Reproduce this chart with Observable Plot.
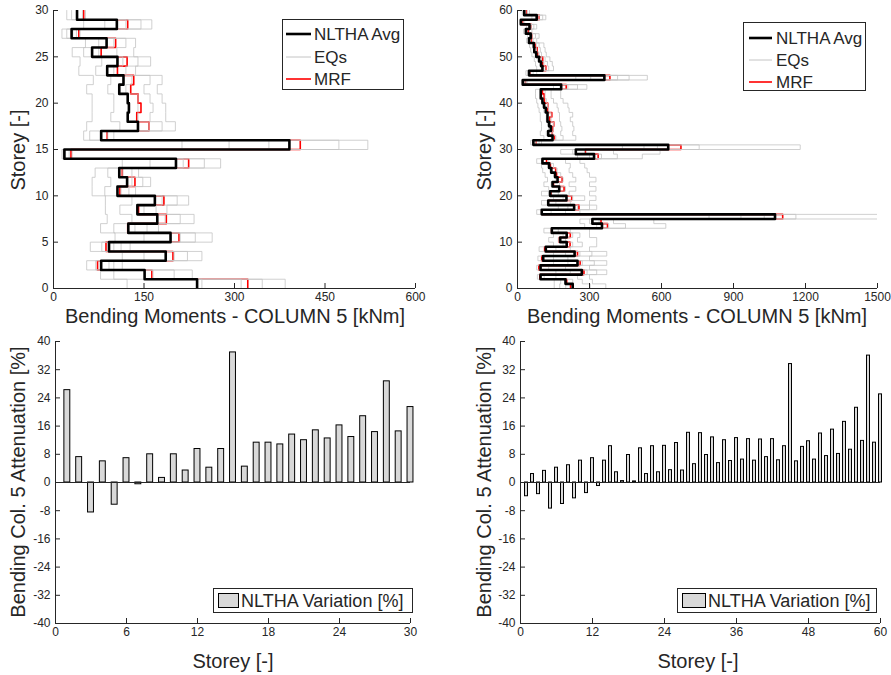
<!DOCTYPE html>
<html><head><meta charset="utf-8">
<script src="https://cdn.jsdelivr.net/npm/d3@7"></script>
<script src="https://cdn.jsdelivr.net/npm/@observablehq/plot@0.6"></script>
<style>
body{margin:0;background:#fff;}
#fig{position:relative;width:891px;height:675px;font-family:"Liberation Sans",Arial,sans-serif;color:#262626;overflow:hidden;background:#fff}
.lab{position:absolute;font-size:20px;white-space:nowrap;line-height:1}
.ylab{transform:translate(-50%,-50%) rotate(-90deg);}
.xlab{transform:translate(-50%,-50%);}
.leg{position:absolute;border:1px solid #262626;background:#fff;font-size:17px;box-sizing:border-box}
.leg .row{position:absolute;left:0;white-space:nowrap;line-height:1}
</style></head><body><div id="fig"></div>
<script>
// ---------- DATA ----------
// Top-left (30 storeys) bending moments [kNm], one value per storey band (storey i-1 -> i)
const avgL = [238,151,79,186,92,194,124,172,139,168,106,122,109,203,18,391,79,140,123,125,123,109,116,89,106,64,88,30,105,39];
const mrfL = [322,163,73,198,87,208,123,187,141,183,110,135,114,224,29,409,89,158,138,145,140,128,133,106,122,79,103,42,123,50];
const eqL1 = [122,78,55,114,61,102,78,89,86,86,64,64,69,114,14,213,50,55,64,64,64,55,66,42,44,31,53,14,50,22];
const eqL2 = [246,100,70,150,80,150,100,130,110,130,85,95,90,160,16,291,60,110,95,100,100,90,95,70,80,50,75,22,85,30];
const eqL3 = [311,165,92,200,100,210,135,185,150,180,112,130,115,215,20,357,80,158,140,140,140,120,130,100,115,75,100,32,120,40];
const eqL4 = [346,200,100,222,112,235,155,210,170,205,125,148,130,250,26,473,90,180,160,165,160,150,160,120,140,105,120,38,145,48];
const eqL5 = [384,230,114,246,127,263,174,233,188,224,136,161,141,277,31,521,100,202,186,186,180,172,180,136,161,133,136,44,163,53];

// Top-right (60 storeys)
const avgR = [230,200,96,268,96,250,107,238,118,205, 178,205,143,352,312,1073,101,236,128,204, 136,174,146,167,157,141,132,104,319,243, 628,66,146,128,139,132,125,125,118,111, 104,97,97,182,22,362,48,104,98,90, 78,70,68,48,55,35,50,14,80,28];
const mrfR = [221,205,93,277,89,261,101,250,113,219, 173,220,142,375,348,1105,101,256,128,226, 139,194,150,186,163,159,137,121,336,283, 681,76,154,145,148,151,134,143,126,126, 112,111,104,203,33,385,53,118,105,105, 84,82,74,58,61,44,57,22,90,37];
const eqR1 = [153,153,83,160,80,150,85,150,90,150, 130,150,110,280,260,798,80,170,100,150, 100,130,110,125,115,105,100,80,250,180, 437,55,110,95,100,100,95,95,90,85, 80,75,75,150,18,243,35,80,75,70, 60,55,50,38,42,25,38,10,60,20];
const eqR2 = [176,180,111,220,100,210,110,200,120,190, 170,190,140,330,300,931,100,210,125,190, 130,165,140,160,150,135,125,100,300,230, 527,65,140,120,130,125,120,120,110,105, 100,95,95,180,22,305,45,100,95,88, 75,68,65,46,52,32,48,14,78,27];
const eqR3 = [201,230,160,290,130,270,150,260,160,230, 200,230,170,380,340,1028,140,250,160,230, 170,200,175,190,180,165,150,130,350,280, 583,75,160,145,150,150,140,140,130,125, 120,115,115,210,28,417,55,115,110,100, 90,80,78,55,62,40,58,18,90,33];
const eqR4 = [303,270,250,330,200,320,210,310,220,270, 250,260,220,450,400,1160,200,300,220,280, 215,243,215,243,230,215,220,200,416,400, 757,90,190,180,185,180,175,175,170,165, 150,140,140,250,34,465,65,130,125,115, 100,95,90,65,75,50,68,24,105,40];
const eqR5 = [368,312,300,372,300,372,300,372,300,330, 330,300,300,618,568,1600,260,330,300,327, 300,327,300,327,300,290,280,260,520,594, 1178,100,243,230,235,230,220,230,215,210, 190,180,180,289,40,541,80,150,145,135, 120,115,110,80,90,60,80,30,118,50];

// Bottom: attenuation [%] per storey
const attL = [26.2,7.2,-8.5,6.0,-6.3,6.9,-0.5,8.0,1.3,8.0,3.4,9.5,4.2,9.5,36.9,4.5,11.3,11.3,10.8,13.6,12.0,14.8,12.5,16.2,12.9,18.8,14.3,28.7,14.5,21.4];
const attR = [-3.9,2.4,-3.3,3.3,-7.4,4.2,-6.1,4.9,-4.5,6.2, -3.0,6.9,-1.0,6.2,10.3,2.9,0.4,7.8,0.3,9.7, 2.4,10.3,2.9,10.4,3.5,11.2,3.4,14.1,5.2,14.0, 7.8,12.8,5.5,12.0,6.1,12.6,6.5,12.3,6.2,12.2, 7.2,12.3,6.3,10.3,33.6,6.0,10.1,11.7,6.5,13.9, 7.5,15.0,8.1,17.2,9.3,21.2,11.8,36.0,11.3,25.0];

// Ticks
const tlX = [0,150,300,450,600], tlY = [0,5,10,15,20,25,30];
const trX = [0,300,600,900,1200,1500], trY = [0,10,20,30,40,50,60];
const blX = [0,6,12,18,24,30], brX = [0,12,24,36,48,60];
const bY = [-40,-32,-24,-16,-8,0,8,16,24,32,40];

// Labels
const xLabTop = "Bending Moments - COLUMN 5 [kNm]";
const yLabTop = "Storey [-]";
const xLabBot = "Storey [-]";
const yLabBot = "Bending Col. 5 Attenuation [%]";
const legTop = ["NLTHA Avg","EQs","MRF"];
const legBot = "NLTHA Variation [%]";

// ---------- HELPERS ----------
const fig = document.getElementById("fig");
const AX = "#262626";
const baseStyle = {fontFamily:"Liberation Sans, Arial, sans-serif", fontSize:"12px", color:AX, background:"transparent", overflow:"visible"};
function steps(vals, s){ const pts=[]; vals.forEach((v,i)=>{pts.push({x:v,y:i,s});pts.push({x:v,y:i+1,s});}); return pts; }
function add(p){ p.style.position="absolute"; p.style.left="0px"; p.style.top="0px"; fig.appendChild(p); }
function axes(xt, yt){
  return [
    Plot.ruleX([xt[0]], {stroke:AX, strokeWidth:1}),
    Plot.ruleY([yt[0]], {stroke:AX, strokeWidth:1}),
    Plot.axisX({ticks:xt, tickSize:-5, tickPadding:9, tickFormat:d=>String(d), label:null, stroke:AX, fill:AX}),
    Plot.axisY({ticks:yt, tickSize:-5, tickPadding:10, tickFormat:d=>String(d), label:null, stroke:AX, fill:AX})
  ];
}
function moments(avg, mrf, eqs, xt, yt, m){
  const eqPts = eqs.flatMap((e,k)=>steps(e,"EQ"+k));
  add(Plot.plot({
    width:891, height:675, ...m, style:baseStyle,
    x:{domain:[xt[0], xt[xt.length-1]]}, y:{domain:[yt[0], yt[yt.length-1]]},
    marks:[
      Plot.line(steps(mrf,"MRF"), {x:"x", y:"y", stroke:"#ff0000", strokeWidth:1.6, clip:true}),
      Plot.line(eqPts, {x:"x", y:"y", z:"s", stroke:"#c4c4c4", strokeOpacity:0.8, strokeWidth:1, clip:true}),
      Plot.line(steps(avg,"AVG"), {x:"x", y:"y", stroke:"#000", strokeWidth:2.6, clip:true}),
      ...axes(xt, yt)
    ]
  }));
}
function bars(att, xt, m){
  const data = att.map((v,i)=>({s:i+1, v}));
  add(Plot.plot({
    width:891, height:675, ...m, style:baseStyle,
    x:{domain:[xt[0], xt[xt.length-1]]}, y:{domain:[bY[0], bY[bY.length-1]]},
    marks:[
      Plot.rectY(data, {x1:d=>d.s-0.25, x2:d=>d.s+0.25, y1:0, y2:"v", fill:"#d9d9d9", stroke:"#000", strokeWidth:1}),
      Plot.ruleY([0], {stroke:AX, strokeWidth:1}),
      ...axes(xt, bY)
    ]
  }));
}
function label(text, x, y, vertical){
  const d=document.createElement("div"); d.className="lab "+(vertical?"ylab":"xlab");
  d.style.left=x+"px"; d.style.top=y+"px"; d.textContent=text; fig.appendChild(d);
}
function legendLines(x, y, w, h, lineX0, lineX1, textX, rows){
  const d=document.createElement("div"); d.className="leg";
  Object.assign(d.style,{left:x+"px",top:y+"px",width:w+"px",height:h+"px"});
  const styles=[{c:"#000",w:2.6},{c:"#c4c4c4",w:1},{c:"#ff0000",w:1.6}];
  legTop.forEach((t,i)=>{
    const r=document.createElement("div"); r.className="row"; r.style.top=(rows[i]-y-9)+"px"; r.style.height="18px";
    r.innerHTML=`<svg width="${lineX1-x+2}" height="18" style="position:absolute;left:0;top:0"><line x1="${lineX0-x}" x2="${lineX1-x}" y1="9" y2="9" stroke="${styles[i].c}" stroke-width="${styles[i].w}"/></svg><span style="position:absolute;left:${textX-x}px;top:1px">${t}</span>`;
    d.appendChild(r);
  });
  fig.appendChild(d);
}
function legendBar(x, y, w, h, sx0, sx1, textX){
  const d=document.createElement("div"); d.className="leg"; d.style.fontSize="18px";
  Object.assign(d.style,{left:x+"px",top:y+"px",width:w+"px",height:h+"px"});
  d.innerHTML=`<div style="position:absolute;left:${sx0-x}px;top:4px;width:${sx1-sx0}px;height:${h-10}px;background:#d9d9d9;border:1px solid #000;box-sizing:border-box"></div><span style="position:absolute;left:${textX-x}px;top:${(h-2-18)/2}px;line-height:1">${legBot}</span>`;
  fig.appendChild(d);
}

// ---------- DRAW ----------
moments(avgL, mrfL, [eqL1,eqL2,eqL3,eqL4,eqL5], tlX, tlY, {marginLeft:53, marginRight:476, marginTop:10, marginBottom:387});
moments(avgR, mrfR, [eqR1,eqR2,eqR3,eqR4,eqR5], trX, trY, {marginLeft:517, marginRight:14, marginTop:10, marginBottom:387});
bars(attL, blX, {marginLeft:55, marginRight:481, marginTop:341, marginBottom:52});
bars(attR, brX, {marginLeft:520, marginRight:11, marginTop:341, marginBottom:52});

label(yLabTop, 18, 150, true);
label(yLabTop, 484, 150, true);
label(xLabTop, 235, 316, false);
label(xLabTop, 697, 316, false);
label(yLabBot, 18, 482, true);
label(yLabBot, 484, 482, true);
label(xLabBot, 233, 661, false);
label(xLabBot, 698, 661, false);

legendLines(282, 19, 122, 71, 285, 310, 313, [33,56,78]);
legendLines(743, 22, 123, 69, 748, 771, 775, [37,59,81]);
legendBar(213, 588, 200, 25, 217, 238, 240);
legendBar(677, 588, 200, 25, 681, 705, 707);
</script></body></html>
